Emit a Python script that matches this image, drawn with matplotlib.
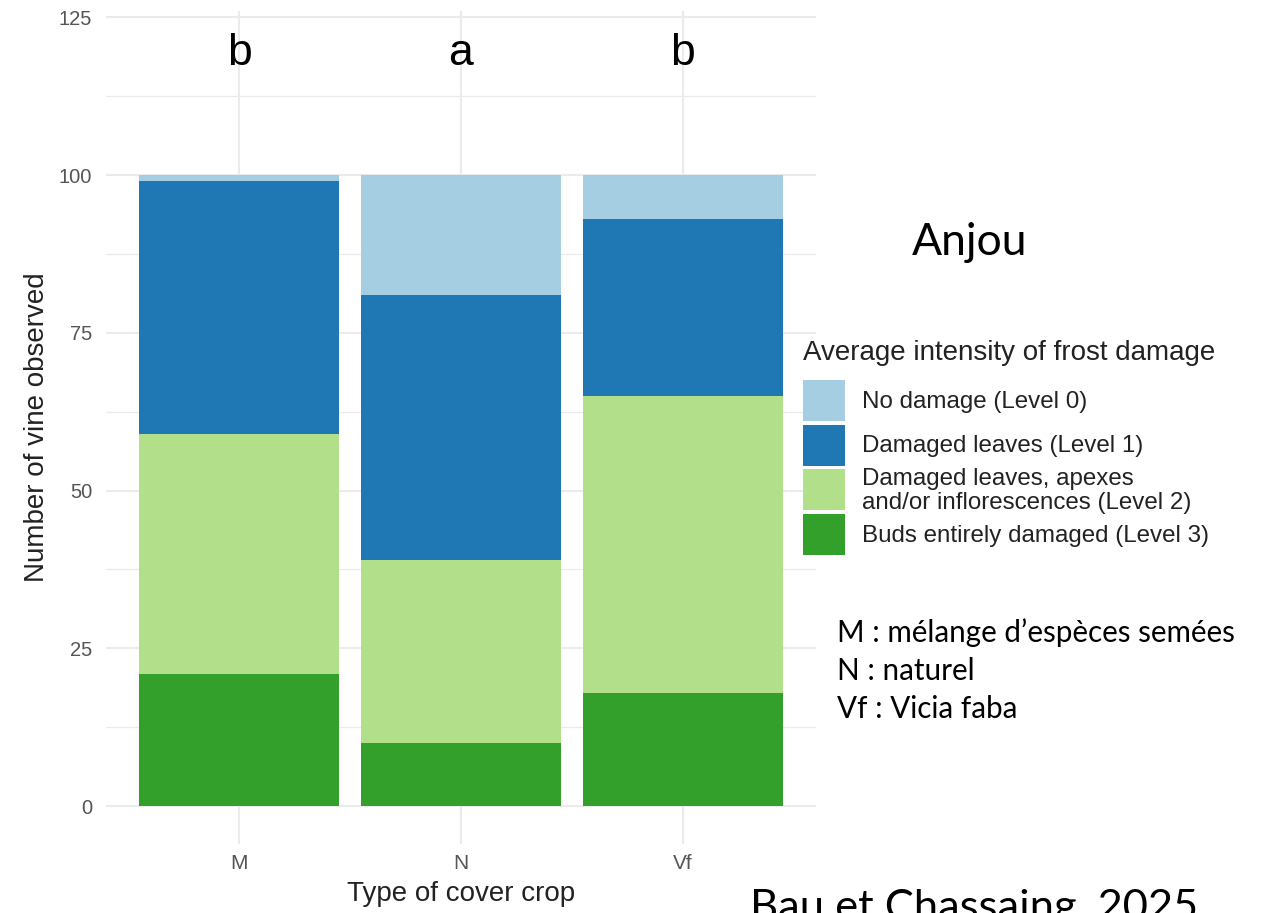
import matplotlib.pyplot as plt
from matplotlib.patches import Rectangle
import numpy as np

W, H = 1268, 913

# data
crops = ['M', 'N', 'Vf']
letters = ['b', 'a', 'b']
letter_y = 117.5
level3 = [21, 10, 18]
level2 = [38, 29, 47]
level1 = [40, 42, 28]
level0 = [1, 19, 7]
level_names = ['No damage (Level 0)',
               'Damaged leaves (Level 1)',
               'Damaged leaves, apexes\nand/or inflorescences (Level 2)',
               'Buds entirely damaged (Level 3)']
level_colors = ['#A6CEE3', '#1F78B4', '#B2DF8A', '#33A02C']
notes = ['M : mélange d\u2019espèces semées', 'N : naturel', 'Vf : Vicia faba']

plt.rcParams['font.family'] = ['Liberation Sans', 'DejaVu Sans']


def fx(px):
    return px / W


def fy(py):
    return (H - py) / H


fig = plt.figure(figsize=(W / 100, H / 100), dpi=100)
ax = fig.add_axes([fx(106), fy(844), (816 - 106) / W, (844 - 11) / H])

x = np.arange(1, len(crops) + 1)
bottom = np.zeros(len(crops))
# stack from level 3 at the bottom up to level 0
for vals, col in zip([level3, level2, level1, level0], level_colors[::-1]):
    ax.bar(x, vals, width=0.9, bottom=bottom, color=col, linewidth=0, zorder=2)
    bottom += np.array(vals)

for xi, lt in zip(x, letters):
    ax.text(xi, letter_y, lt, ha='center', va='baseline', fontsize=32, color='black')

ax.set_xlim(0.4, 3.6)
ax.set_ylim(-6, 126)
ax.set_xticks(x)
ax.set_xticklabels(crops)
ax.set_yticks(np.arange(0, 126, 25))
ax.set_yticks(np.arange(12.5, 126, 25), minor=True)
ax.grid(True, which='major', color='#EBEBEB', linewidth=1.5, zorder=0)
ax.grid(True, which='minor', axis='y', color='#EBEBEB', linewidth=0.9, zorder=0)
ax.set_axisbelow(True)
for s in ax.spines.values():
    s.set_visible(False)
ax.tick_params(axis='both', which='both', length=0)
ax.tick_params(axis='y', labelsize=14.5, labelcolor='#555555', pad=10)
ax.tick_params(axis='x', labelsize=15, labelcolor='#555555', pad=7)
ax.set_xlabel('Type of cover crop', fontsize=20, color='#222222', labelpad=6)
ax.set_ylabel('Number of vine observed', fontsize=20, color='#222222', labelpad=6)

# legend drawn by hand, ggplot style
fig.text(fx(803), fy(360), 'Average intensity of frost damage', fontsize=20,
         color='#222222', ha='left', va='baseline')
for i, (name, col) in enumerate(zip(level_names, level_colors)):
    top = 380 + i * 44.7
    fig.patches.append(Rectangle((fx(803), fy(top + 41)), 42 / W, 41 / H,
                                 transform=fig.transFigure, color=col, linewidth=0))
    fig.text(fx(862), fy(top + 21.5), name, fontsize=17.4, color='#222222',
             ha='left', va='center', linespacing=1.12)

fig.text(fx(912), fy(255), 'Anjou', fontsize=32, family='Lato', va='baseline')
for i, nt in enumerate(notes):
    fig.text(fx(837), fy(642 + i * 38), nt, fontsize=21.3, family='Lato', va='baseline')
fig.text(fx(750), fy(920), 'Bau et Chassaing, 2025', fontsize=31.3, family='Lato',
         va='baseline')

fig.savefig('out.png', dpi=100)
